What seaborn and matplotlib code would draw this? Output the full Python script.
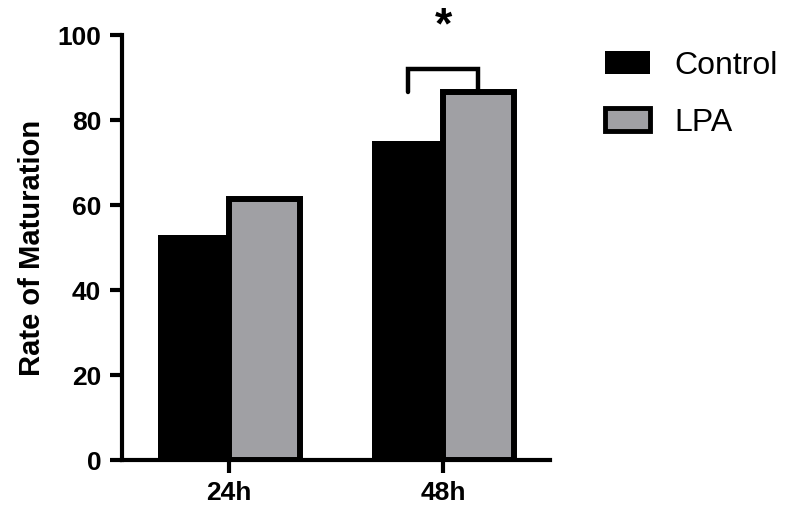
import numpy as np
import pandas as pd
import matplotlib
matplotlib.use("Agg")
import matplotlib.pyplot as plt
import seaborn as sns

# ── 데이터 ─────────────────────────────────────────
times = ["24h", "48h"]
groups = ["Control", "LPA"]
control_vals = [53, 75]
lpa_vals = [61.5, 86.5]
colors = {"Control": "#000000", "LPA": "#a0a0a4"}

sns.set_style("ticks", {"axes.edgecolor": "black", "text.color": "black",
                        "xtick.color": "black", "ytick.color": "black",
                        "axes.labelcolor": "black"})
plt.rcParams["font.family"] = ["Liberation Sans", "DejaVu Sans"]

df = pd.DataFrame({
    "Time": times * 2,
    "Group": ["Control"] * 2 + ["LPA"] * 2,
    "Rate": control_vals + lpa_vals,
})

fig = plt.figure(figsize=(7.87, 5.16), dpi=100)
ax = fig.add_axes([0.155, 0.108, 0.544, 0.824])
sns.barplot(data=df, x="Time", y="Rate", hue="Group", hue_order=groups,
            palette=colors, width=0.66, saturation=1, errorbar=None, ax=ax,
            legend=False)

# 테두리 스타일: LPA만 굵은 검은 테두리
n = len(times)
for i, p in enumerate(ax.patches[:2 * n]):
    p.set_edgecolor("black")
    if i >= n:
        p.set_linewidth(4.3)
        p.set_zorder(3)
    else:
        p.set_linewidth(0)
        p.set_zorder(2)

ax.set_xlim(-0.5, 1.5)
ax.set_ylim(0, 100)
ax.set_yticks(np.arange(0, 101, 20))
ax.set_xlabel("")
ax.set_ylabel("Rate of Maturation", fontsize=21, fontweight="bold", labelpad=8)
for s in ["top", "right"]:
    ax.spines[s].set_visible(False)
for s in ["left", "bottom"]:
    ax.spines[s].set_linewidth(3)
ax.tick_params(axis="both", width=3, length=9, labelsize=19, pad=6,
               colors="black")
for lbl in ax.get_xticklabels() + ax.get_yticklabels():
    lbl.set_fontweight("bold")

# 유의성 브래킷 (48h)
c48 = ax.patches[1]
l48 = ax.patches[n + 1]
x1 = c48.get_x() + c48.get_width() / 2
x2 = l48.get_x() + l48.get_width() / 2
top = 92
ax.plot([x1, x1, x2, x2], [top - 5.5, top, top, lpa_vals[1]], color="black",
        lw=3.2, solid_joinstyle="miter", clip_on=False, zorder=4)
ax.text((x1 + x2) / 2, 97, "*", ha="center", va="bottom", fontsize=32,
        fontweight="bold", clip_on=False)

# 범례
handles = [plt.Rectangle((0, 0), 1, 1, facecolor=colors[g], edgecolor="black",
                         linewidth=0 if g == "Control" else 3.5) for g in groups]
fig.legend(handles, groups, loc="upper left", bbox_to_anchor=(0.769, 0.902),
           frameon=False, fontsize=23, handlelength=1.4, handleheight=0.7,
           labelspacing=0.85, handletextpad=0.75, borderpad=0, borderaxespad=0)

fig.savefig("out.png", dpi=100)
